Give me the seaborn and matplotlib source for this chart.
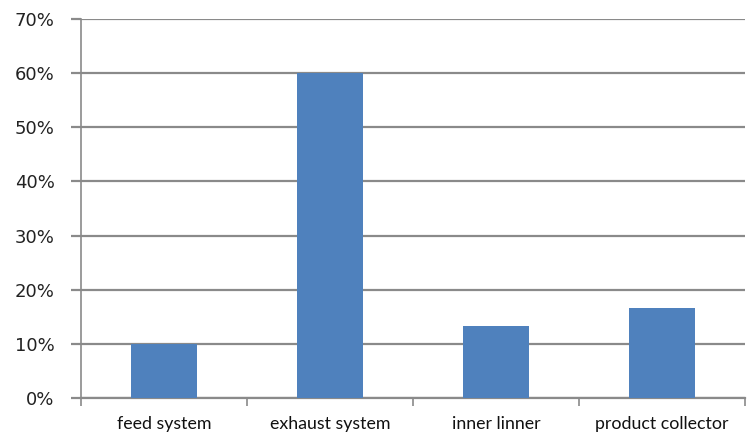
import matplotlib
matplotlib.use("Agg")
import matplotlib.pyplot as plt
import seaborn as sns
import pandas as pd
from matplotlib.ticker import FixedLocator, PercentFormatter

# Share of deposits by equipment section
categories = ["feed system", "exhaust system", "inner linner", "product collector"]
shares = [0.100, 0.600, 0.133, 0.167]
y_ticks = [0.0, 0.1, 0.2, 0.3, 0.4, 0.5, 0.6, 0.7]

df = pd.DataFrame({"section": categories, "share": shares})

sns.set_theme(style="white")
plt.rcParams["font.family"] = ["DejaVu Sans"]

fig = plt.figure(figsize=(7.47, 4.37), dpi=100)
ax = fig.add_axes([0.1084, 0.0892, 0.8889, 0.8673])

sns.barplot(data=df, x="section", y="share", color="#4F81BD", width=0.4,
            saturation=1, linewidth=0, ax=ax, zorder=3)

grid_c = "#8A8A8A"
ax.set_ylim(0, 0.7)
ax.set_xlim(-0.5, len(categories) - 0.5)
ax.yaxis.set_major_locator(FixedLocator(y_ticks))
ax.yaxis.set_major_formatter(PercentFormatter(1.0, decimals=0))
ax.grid(axis="y", color=grid_c, linewidth=1.6, zorder=0)
ax.grid(axis="x", visible=False)

for side in ["top", "right"]:
    ax.spines[side].set_visible(False)
ax.spines["left"].set_color(grid_c)
ax.spines["left"].set_linewidth(1.2)
ax.spines["bottom"].set_color(grid_c)
ax.spines["bottom"].set_linewidth(1.6)

ax.set_xlabel("")
ax.set_ylabel("")

ax.tick_params(axis="y", which="major", left=True, length=7, width=1.6,
               color=grid_c, pad=12, labelsize=13, labelcolor="#222222")
ax.xaxis.set_minor_locator(FixedLocator([i - 0.5 for i in range(len(categories) + 1)]))
ax.tick_params(axis="x", which="minor", bottom=True, length=6, width=1.2, color=grid_c)
ax.tick_params(axis="x", which="major", bottom=False, length=0, pad=13)
for lbl in ax.get_xticklabels():
    lbl.set_fontfamily("Lato")
    lbl.set_fontsize(12.8)
    lbl.set_color("#111111")

fig.savefig("out.png", dpi=100)
